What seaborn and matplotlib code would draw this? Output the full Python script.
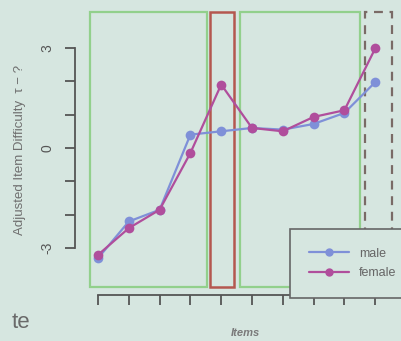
import matplotlib
matplotlib.use("Agg")
import matplotlib.pyplot as plt
import seaborn as sns
import pandas as pd
from matplotlib.patches import Rectangle
from matplotlib.lines import Line2D

items = list(range(1, 11))
male = [-3.3, -2.2, -1.85, 0.4, 0.5, 0.6, 0.55, 0.72, 1.05, 1.97]
female = [-3.2, -2.4, -1.85, -0.15, 1.9, 0.6, 0.5, 0.93, 1.13, 2.98]
y_ticks = [-3, -2, -1, 0, 1, 2, 3]
y_labels = ["-3", "", "", "0", "", "", "3"]

df = pd.DataFrame({
    "item": items * 2,
    "value": male + female,
    "group": ["male"] * len(items) + ["female"] * len(items),
})

bg = "#d6e6e0"
sns.set_theme(style="ticks")
plt.rcParams['font.family'] = ['Liberation Sans', 'DejaVu Sans']

fig = plt.figure(figsize=(4.01, 3.41), dpi=100)
fig.patch.set_facecolor(bg)
ax = fig.add_axes([0, 0, 1, 1])
ax.set_facecolor(bg)

# pixel mapping: x_px = 98 + (x-1)*30.8 ; y_px = 148 - y*33.4
ax.set_xlim((0 - 98) / 30.8 + 1, (401 - 98) / 30.8 + 1)
ax.set_ylim((148 - 341) / 33.4, (148 - 0) / 33.4)

# region boxes
ax.add_patch(Rectangle((0.74, -4.16), 3.8, 8.23, fill=False, ec="#92d08c", lw=1.6, zorder=1))
ax.add_patch(Rectangle((4.64, -4.16), 0.78, 8.23, fill=False, ec="#b4574f", lw=1.8, zorder=1))
ax.add_patch(Rectangle((5.6, -4.16), 3.9, 8.23, fill=False, ec="#92d08c", lw=1.6, zorder=1))
ax.add_patch(Rectangle((9.66, -4.16), 0.9, 8.23, fill=False, ec="#7a6a66", lw=1.6,
                       ls=(0, (4, 3)), zorder=1))

palette = {"male": "#7f90d8", "female": "#b04e9c"}
sns.lineplot(data=df, x="item", y="value", hue="group", hue_order=["male", "female"],
             palette=palette, marker="o", markersize=7, markeredgewidth=0,
             linewidth=1.6, ax=ax, legend=False, zorder=3)

# axes R-style
for s in ["top", "right"]:
    ax.spines[s].set_visible(False)
ax.spines["left"].set_position(("data", 0.25))
ax.spines["left"].set_bounds(-3, 3)
ax.spines["bottom"].set_position(("data", -4.4))
ax.spines["bottom"].set_bounds(1, 10)
for s in ["left", "bottom"]:
    ax.spines[s].set_color("#555555")
    ax.spines[s].set_linewidth(1.3)
ax.set_yticks(y_ticks)
ax.set_yticklabels(y_labels, rotation=90, va="center")
ax.set_xticks(items)
ax.set_xticklabels([""] * len(items))
ax.tick_params(axis="both", direction="out", length=7, width=1.3, color="#555555",
               labelcolor="#555555", labelsize=10, pad=8, left=True, bottom=True)
ax.set_xlabel("")
ax.set_ylabel("")

fig.text(20 / 401, 1 - 150 / 341, "Adjusted Item Difficulty  τ − ?", rotation=90,
         ha="center", va="center", fontsize=9.5, color="#6f6f6f")
fig.text(245 / 401, 1 - 333 / 341, "Items", ha="center", va="center", fontsize=8,
         color="#7a7a7a", style="italic", weight="bold")
fig.text(12 / 401, 1 - 322 / 341, "te", ha="left", va="center", fontsize=16,
         color="#6a6a6a")

# legend
handles = [Line2D([], [], color=palette["male"], marker="o", markersize=5, lw=1.6),
           Line2D([], [], color=palette["female"], marker="o", markersize=5, lw=1.6)]
leg = ax.legend(handles, ["male", "female"], loc="lower left",
                bbox_to_anchor=(290 / 401, 1 - 298 / 341, 130 / 401, 70 / 341),
                mode="expand", frameon=True, framealpha=1.0,
                fontsize=9, labelcolor="#666666", handlelength=3.2, borderpad=1.5,
                labelspacing=0.6, fancybox=False, borderaxespad=0)
leg.get_frame().set_facecolor(bg)
leg.get_frame().set_edgecolor("#666666")
leg.get_frame().set_linewidth(1.2)
leg.set_zorder(5)

fig.savefig("out.png", dpi=100, facecolor=bg)
